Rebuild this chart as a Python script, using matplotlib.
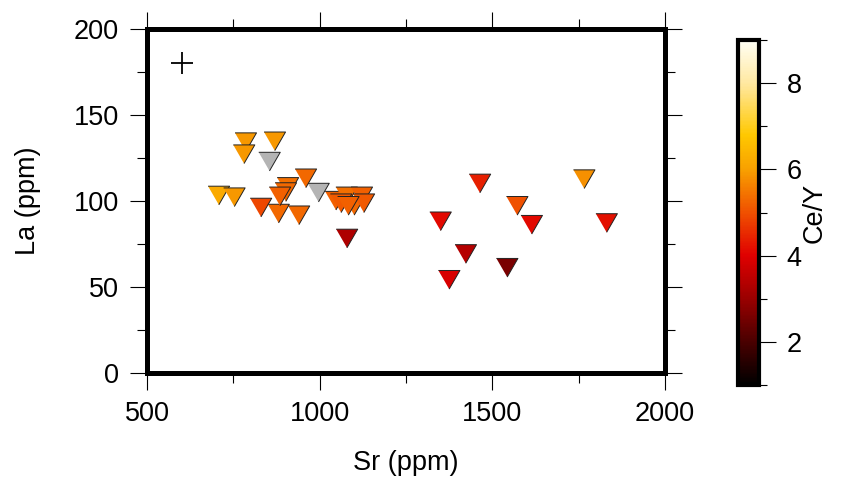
import numpy as np
import matplotlib
matplotlib.use('Agg')
from matplotlib import pyplot as plt
from matplotlib.ticker import MultipleLocator
from matplotlib.colors import LinearSegmentedColormap

plt.rcParams['font.family'] = ['Liberation Sans', 'DejaVu Sans']

# Sr (ppm), La (ppm), Ce/Y  (nan = no Ce/Y value, drawn grey)
sr = [708, 753, 786, 781, 870, 854, 960, 995, 830, 881, 940, 908, 902, 885,
      1079, 1047, 1078, 1122, 1062, 1100, 1128, 1083,
      1464, 1766, 1572, 1350, 1614, 1831, 1423, 1543, 1375]
la = [105, 104, 136, 129, 136.5, 125, 115, 107, 98, 94.5, 93.5, 110, 107, 104.5,
      80, 102, 104.5, 104.5, 100.5, 99, 100.5, 99,
      112, 114.5, 99, 90, 88, 89, 71, 63, 56]
cey = [6.2, 5.9, 5.9, 5.9, 5.9, np.nan, 5.3, np.nan, 4.9, 5.3, 5.3, 5.4, 5.3, 5.2,
       3.3, 5.2, 5.4, 5.2, 5.1, 5.3, 5.1, 5.2,
       4.4, 5.8, 5.0, 4.1, 4.1, 4.2, 3.4, 2.6, 3.9]

# error cross
err_sr = [600]
err_la = [180]

# colour table for Ce/Y (hot-like)
cpt_vals = [1.0, 2.0, 3.0, 4.0, 5.0, 6.0, 6.8, 8.0, 9.0]
cpt_cols = ['#000000', '#4a0000', '#9a0000', '#e00000', '#f05000',
            '#f8a000', '#ffc800', '#ffe8a0', '#fffff5']

sr = np.array(sr)
la = np.array(la)
cey = np.array(cey)

cmap = LinearSegmentedColormap.from_list(
    'cey', [((v - 1) / 8, c) for v, c in zip(cpt_vals, cpt_cols)])

fig = plt.figure(figsize=(8.43, 4.83), dpi=100)
ax = fig.add_axes([147/843, 1 - 373/483, 518/843, 344/483])

# inverted triangle, centred on centroid
tri = [(-1, 0.577), (1, 0.577), (0, -1.155)]

nan = np.isnan(cey)
ax.scatter(sr[nan], la[nan], s=320, marker=tri, c='#b4b4b4',
           edgecolors='#222222', linewidths=0.7, zorder=3)
sc = ax.scatter(sr[~nan], la[~nan], s=320, marker=tri, c=cey[~nan],
                cmap=cmap, vmin=1, vmax=9,
                edgecolors='#222222', linewidths=0.7, zorder=3)

ax.plot(err_sr, err_la, marker='+', color='black', markersize=16,
        markeredgewidth=1.3, linestyle='none')

ax.set_xlim(500, 2000)
ax.set_ylim(0, 200)
ax.xaxis.set_major_locator(MultipleLocator(500))
ax.xaxis.set_minor_locator(MultipleLocator(250))
ax.yaxis.set_major_locator(MultipleLocator(50))
ax.yaxis.set_minor_locator(MultipleLocator(25))

for sp in ax.spines.values():
    sp.set_linewidth(3.6)
ax.tick_params(which='both', direction='out', top=True, right=True,
               width=0.8, labelsize=19.5)
ax.tick_params(which='major', length=12, pad=8)
ax.tick_params(which='minor', length=7)

ax.set_xlabel('Sr (ppm)', fontsize=19.5)
ax.set_ylabel('La (ppm)', fontsize=19.5)
ax.xaxis.set_label_coords(0.5, -0.225)
ax.yaxis.set_label_coords(-0.205, 0.5)

cax = fig.add_axes([738/843, 1 - 385/483, 21/843, 345/483])
cb = fig.colorbar(sc, cax=cax)
cb.outline.set_linewidth(3)
cb.set_ticks([2, 4, 6, 8])
cb.ax.yaxis.set_minor_locator(MultipleLocator(1))
cb.ax.tick_params(which='major', length=12, width=0.8, labelsize=19.5, pad=8)
cb.ax.tick_params(which='minor', length=6, width=0.8)
cb.set_label('Ce/Y', fontsize=19.5, labelpad=0)

plt.savefig('out.png', dpi=100)
